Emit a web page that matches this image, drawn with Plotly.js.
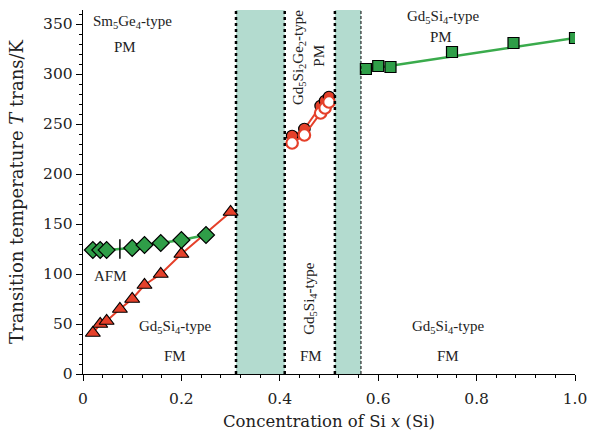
<!DOCTYPE html>
<html><head><meta charset="utf-8">
<script src="https://cdn.plot.ly/plotly-3.0.1.min.js"></script>
<style>html,body{margin:0;padding:0;background:#fff}#chart{width:592px;height:432px}</style>
</head><body><div id="chart"></div>
<script>
// Sm5Ge4-type AFM transition (diamonds)
const afmX = [0.02, 0.035, 0.048, 0.1, 0.125, 0.158, 0.2, 0.25];
const afmY = [124, 124, 124, 126, 129, 131, 134, 139];
const barX = [0.075];
const barY = [125];
// Gd5Si4-type FM transition (triangles)
const triX = [0.02, 0.035, 0.048, 0.075, 0.1, 0.125, 0.158, 0.2, 0.3];
const triY = [41, 50, 53, 65, 75, 89, 100, 120, 162];
// Gd5Si2Ge2-type region (circles, filled = heating, open = cooling)
const cirX = [0.425, 0.45, 0.483, 0.492, 0.5];
const cirFilledY = [238, 245, 268, 273, 277];
const cirOpenY = [231, 239, 261, 266, 272];
// Gd5Si4-type PM -> FM (squares) and the straight guide line drawn through them
const sqX = [0.575, 0.6, 0.625, 0.75, 0.875, 1.0];
const sqY = [305, 308, 307, 322, 331, 336];
const sqLineX = [0.575, 1.0];
const sqLineY = [304.5, 336];
// Region boundaries
const band1 = [0.311, 0.41];
const band2 = [0.512, 0.565];
// Tick labels
const xTickVals = [0, 0.2, 0.4, 0.6, 0.8, 1.0];
const xTickText = ['0', '0.2', '0.4', '0.6', '0.8', '1.0'];
const yTickVals = [0, 50, 100, 150, 200, 250, 300, 350];

const red = '#e5402a', green = '#2f9e48', lineGreen = '#3aab4c';
const traces = [
  {x: triX, y: triY, mode: 'lines+markers', line: {color: red, width: 2},
   marker: {symbol: 'triangle-up', size: 13, color: red, line: {color: '#000', width: 1.2}}},
  {x: afmX, y: afmY, mode: 'lines+markers', line: {color: lineGreen, width: 2.5},
   marker: {symbol: 'diamond', size: 13, color: green, line: {color: '#000', width: 1.2}}},
  {x: barX, y: barY, mode: 'markers',
   marker: {symbol: 'line-ns', size: 14, color: '#000', line: {color: '#000', width: 1.5}}},
  {x: cirX, y: cirFilledY, mode: 'lines+markers', line: {color: red, width: 2},
   marker: {symbol: 'circle', size: 11.5, color: red, line: {color: '#000', width: 1.2}}},
  {x: cirX, y: cirOpenY, mode: 'lines+markers', line: {color: red, width: 2},
   marker: {symbol: 'circle', size: 11.5, color: '#fff', line: {color: red, width: 2.2}}},
  {x: sqLineX, y: sqLineY, mode: 'lines', line: {color: lineGreen, width: 2.5}},
  {x: sqX, y: sqY, mode: 'markers',
   marker: {symbol: 'square', size: 11, color: green, line: {color: '#000', width: 1.2}}}
];

const tf = {family: 'Liberation Serif, Times New Roman, serif', size: 15, color: '#222'};
function ann(x, y, text, rot) {
  return {x: x, y: y, xref: 'x', yref: 'y', text: text, showarrow: false, font: tf,
          textangle: rot || 0, xanchor: 'center', yanchor: 'middle'};
}
const annotations = [
  ann(0.1, 352, 'Sm<sub>5</sub>Ge<sub>4</sub>-type'),
  ann(0.086, 327, 'PM'),
  ann(0.055, 98, 'AFM'),
  ann(0.187, 47, 'Gd<sub>5</sub>Si<sub>4</sub>-type'),
  ann(0.187, 18, 'FM'),
  ann(0.439, 317, 'Gd<sub>5</sub>Si<sub>2</sub>Ge<sub>2</sub>-type', -90),
  ann(0.479, 318, 'PM', -90),
  ann(0.461, 76, 'Gd<sub>5</sub>Si<sub>4</sub>-type', -90),
  ann(0.463, 18, 'FM'),
  ann(0.732, 357, 'Gd<sub>5</sub>Si<sub>4</sub>-type'),
  ann(0.727, 337, 'PM'),
  ann(0.742, 47, 'Gd<sub>5</sub>Si<sub>4</sub>-type'),
  ann(0.742, 18, 'FM')
];

const shapes = [
  {type: 'rect', xref: 'x', yref: 'paper', x0: band1[0], x1: band1[1], y0: 0, y1: 1, fillcolor: '#b3dbcf', line: {width: 0}, layer: 'below'},
  {type: 'rect', xref: 'x', yref: 'paper', x0: band2[0], x1: band2[1], y0: 0, y1: 1, fillcolor: '#b3dbcf', line: {width: 0}, layer: 'below'},
  {type: 'line', xref: 'x', yref: 'paper', x0: band1[0], x1: band1[0], y0: 0, y1: 1, line: {color: '#000', width: 2.5, dash: 'dot'}},
  {type: 'line', xref: 'x', yref: 'paper', x0: band1[1], x1: band1[1], y0: 0, y1: 1, line: {color: '#000', width: 2.5, dash: 'dot'}},
  {type: 'line', xref: 'x', yref: 'paper', x0: band2[0], x1: band2[0], y0: 0, y1: 1, line: {color: '#000', width: 2.5, dash: 'dot'}},
  {type: 'line', xref: 'x', yref: 'paper', x0: band2[1], x1: band2[1], y0: 0, y1: 1, line: {color: '#000', width: 1, dash: '3px,2px'}}
];

const tickFont = {family: 'DejaVu Serif, serif', size: 15.5, color: '#222'};
const layout = {
  width: 592, height: 432,
  margin: {l: 83, r: 17, t: 10, b: 58},
  paper_bgcolor: '#fff', plot_bgcolor: '#fff',
  showlegend: false,
  xaxis: {range: [0, 1.0], tickmode: 'array', tickvals: xTickVals, ticktext: xTickText,
          showline: true, linecolor: '#000', linewidth: 1.2, ticks: 'outside', ticklen: 6, tickcolor: '#000',
          minor: {dtick: 0.04, tick0: 0, ticks: 'outside', ticklen: 3, tickcolor: '#000'},
          ticklabelstandoff: 4,
          showgrid: false, zeroline: false, tickfont: tickFont,
          title: {text: 'Concentration of Si <i>x</i> (Si)', font: {family: 'DejaVu Serif, serif', size: 16.5, color: '#222'}, standoff: 8}},
  yaxis: {range: [0, 364], tickmode: 'array', tickvals: yTickVals,
          showline: true, linecolor: '#000', linewidth: 1.2, ticks: 'outside', ticklen: 6, tickcolor: '#000',
          minor: {dtick: 10, tick0: 0, ticks: 'outside', ticklen: 3, tickcolor: '#000'},
          showgrid: false, zeroline: false, tickfont: tickFont,
          title: {text: 'Transition temperature <i>T</i> trans/K', font: {family: 'DejaVu Serif, serif', size: 18, color: '#222'}, standoff: 14}},
  shapes: shapes,
  annotations: annotations
};
Plotly.newPlot('chart', traces, layout, {displayModeBar: false, staticPlot: true});
</script></body></html>
